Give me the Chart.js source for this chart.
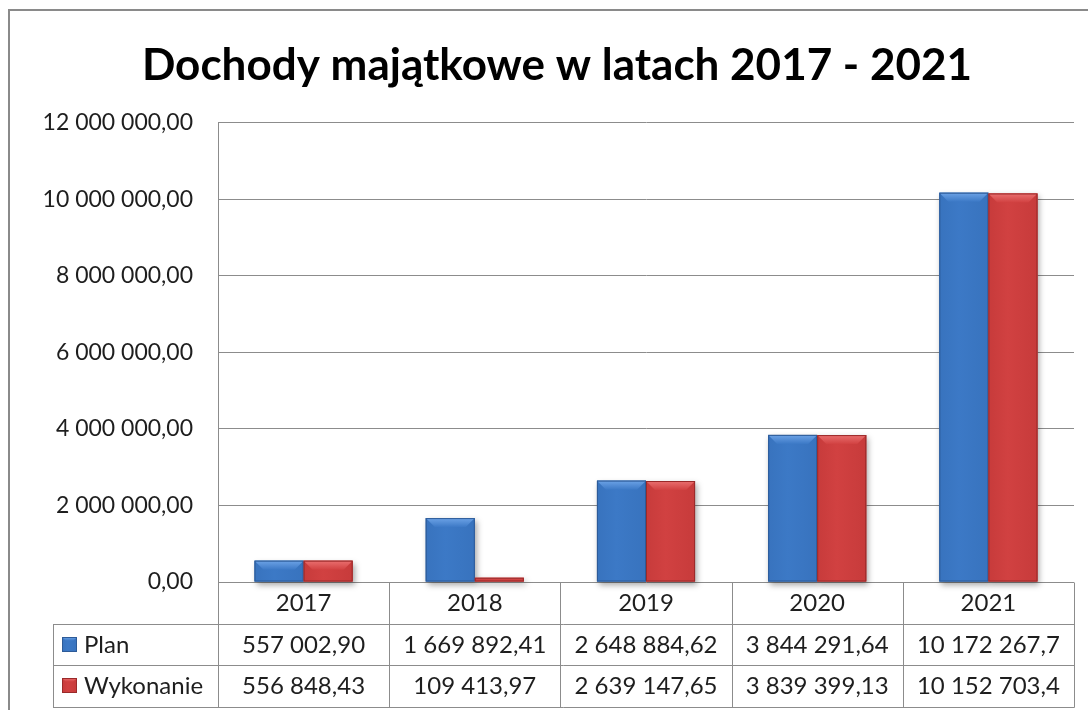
<!DOCTYPE html>
<html>
<head>
<meta charset="utf-8">
<script src="https://cdn.jsdelivr.net/npm/chart.js@4.4.1/dist/chart.umd.min.js"></script>
<style>
  html, body { margin: 0; padding: 0; background: #fff; }
  #wrap { width: 1088px; height: 710px; position: relative; }
</style>
</head>
<body>
<div id="wrap"><canvas id="chart" width="1088" height="710"></canvas></div>
<script>
// data
const years = ['2017', '2018', '2019', '2020', '2021'];
const planValues = [557002.90, 1669892.41, 2648884.62, 3844291.64, 10172267.7];
const wykonanieValues = [556848.43, 109413.97, 2639147.65, 3839399.13, 10152703.4];
const planText = ['557 002,90', '1 669 892,41', '2 648 884,62', '3 844 291,64', '10 172 267,7'];
const wykonanieText = ['556 848,43', '109 413,97', '2 639 147,65', '3 839 399,13', '10 152 703,4'];
const seriesNames = ['Plan', 'Wykonanie'];
const yMax = 12000000;
const yStep = 2000000;

const FONT = 'Lato';
const GRID = '#8c8c8c';
const TEXT = '#1e1e1e';

// bar palettes (body / light bevel / side / dark edge)
const palettes = [
  { body: '#3c79c6', light: '#6da3e6', side: '#3873be', dark: '#2d5b98' },
  { body: '#d14141', light: '#ea7070', side: '#c73b3b', dark: '#9a2a2a' }
];

function fmt(v) {
  const parts = v.toFixed(2).split('.');
  const int = parts[0].replace(/\B(?=(\d{3})+(?!\d))/g, ' ');
  return int + ',' + parts[1];
}

function poly(ctx, pts, color) {
  ctx.beginPath();
  ctx.moveTo(pts[0][0], pts[0][1]);
  for (let i = 1; i < pts.length; i++) ctx.lineTo(pts[i][0], pts[i][1]);
  ctx.closePath();
  ctx.fillStyle = color;
  ctx.fill();
}

function bevel(ctx, x0, x1, y0, y1, pal, maxB) {
  const w = x1 - x0, h = y1 - y0;
  if (h <= 0) return;
  const b = Math.min(maxB, w / 4, h / 2);
  // body gradient
  const g = ctx.createLinearGradient(x0, 0, x1, 0);
  g.addColorStop(0, pal.side);
  g.addColorStop(0.4, pal.body);
  g.addColorStop(1, pal.side);
  ctx.fillStyle = g;
  ctx.fillRect(x0, y0, w, h);
  // top bevel
  const tg = ctx.createLinearGradient(0, y0, 0, y0 + b);
  tg.addColorStop(0, pal.light);
  tg.addColorStop(1, pal.body);
  poly(ctx, [[x0, y0], [x1, y0], [x1 - b, y0 + b], [x0 + b, y0 + b]], tg);
  // outline
  ctx.strokeStyle = pal.dark;
  ctx.lineWidth = 1;
  ctx.strokeRect(x0 + 0.5, y0 + 0.5, w - 1, h - 1);
}

const framePlugin = {
  id: 'frame',
  beforeDraw(chart) {
    const ctx = chart.ctx;
    ctx.save();
    ctx.fillStyle = '#fff';
    ctx.fillRect(0, 0, chart.width, chart.height);
    ctx.strokeStyle = '#8a8a8a';
    ctx.lineWidth = 2;
    ctx.beginPath();
    ctx.moveTo(9, chart.height);
    ctx.lineTo(9, 10);
    ctx.lineTo(chart.width, 10);
    ctx.stroke();
    ctx.restore();
  }
};

const bevelPlugin = {
  id: 'bevelBars',
  beforeDatasetsDraw(chart) {
    const ctx = chart.ctx;
    ctx.save();
    ctx.shadowColor = 'rgba(0,0,0,0.35)';
    ctx.shadowBlur = 6;
    ctx.shadowOffsetX = 2;
    ctx.shadowOffsetY = 3;
    ctx.fillStyle = '#999';
    chart.data.datasets.forEach((ds, di) => {
      chart.getDatasetMeta(di).data.forEach(bar => {
        const x0 = bar.x - bar.width / 2;
        ctx.fillRect(x0, bar.y, bar.width, bar.base - bar.y);
      });
    });
    ctx.restore();
  },
  afterDatasetsDraw(chart) {
    const ctx = chart.ctx;
    ctx.save();
    chart.data.datasets.forEach((ds, di) => {
      chart.getDatasetMeta(di).data.forEach(bar => {
        const x0 = bar.x - bar.width / 2;
        bevel(ctx, x0, x0 + bar.width, bar.y, bar.base, palettes[di], 9);
      });
    });
    ctx.restore();
  }
};

const tablePlugin = {
  id: 'dataTable',
  afterDraw(chart) {
    const { ctx, chartArea, scales } = chart;
    const x = scales.x;
    const left = chartArea.left, right = chartArea.right;
    const top = chartArea.bottom;
    const rowH = 41.5;
    const labelLeft = 53;
    const colW = (right - left) / years.length;
    const px = v => Math.round(v) + 0.5;

    ctx.save();
    ctx.strokeStyle = GRID;
    ctx.lineWidth = 1;
    ctx.beginPath();
    // horizontal lines
    for (let r = 1; r <= 3; r++) {
      const y = px(top + r * rowH);
      ctx.moveTo(labelLeft, y);
      ctx.lineTo(px(right), y);
    }
    // vertical lines
    for (let i = 0; i <= years.length; i++) {
      const xx = px(left + i * colW);
      ctx.moveTo(xx, px(top));
      ctx.lineTo(xx, px(top + 3 * rowH));
    }
    ctx.moveTo(px(labelLeft), px(top + rowH));
    ctx.lineTo(px(labelLeft), px(top + 3 * rowH));
    ctx.stroke();

    ctx.fillStyle = TEXT;
    ctx.font = '24px ' + FONT;
    ctx.textAlign = 'center';
    ctx.textBaseline = 'middle';
    const rows = [years, planText, wykonanieText];
    rows.forEach((row, r) => {
      const cy = top + r * rowH + rowH / 2 + 1;
      row.forEach((t, i) => {
        ctx.fillText(t, x.getPixelForValue(i), cy);
      });
    });

    // legend keys
    ctx.textAlign = 'left';
    seriesNames.forEach((name, s) => {
      const cy = top + (s + 1) * rowH + rowH / 2;
      const k = 15;
      bevel(ctx, 62, 62 + k, Math.round(cy - k / 2), Math.round(cy - k / 2) + k, palettes[s], 4);
      ctx.fillStyle = TEXT;
      ctx.fillText(name, 84, cy + 1);
    });
    ctx.restore();
  }
};

const chart = new Chart(document.getElementById('chart'), {
  type: 'bar',
  data: {
    labels: years,
    datasets: [
      { label: seriesNames[0], data: planValues, backgroundColor: palettes[0].body, borderWidth: 0 },
      { label: seriesNames[1], data: wykonanieValues, backgroundColor: palettes[1].body, borderWidth: 0 }
    ]
  },
  options: {
    responsive: false,
    animation: false,
    devicePixelRatio: 1,
    categoryPercentage: 0.573,
    barPercentage: 1.0,
    // left padding shifts the title centre right; the y axis keeps chart left at 218
    layout: { padding: { top: 10, left: 40, right: 14, bottom: 128 } },
    scales: {
      x: { display: false },
      y: {
        min: 0,
        max: yMax,
        afterFit: s => { s.width = 178; },
        ticks: {
          stepSize: yStep,
          padding: 25,
          color: TEXT,
          font: { family: FONT, size: 23 },
          callback: v => fmt(v)
        },
        grid: { color: GRID, drawTicks: false },
        border: { display: true, color: GRID }
      }
    },
    plugins: {
      legend: { display: false },
      tooltip: { enabled: false },
      title: {
        display: true,
        text: 'Dochody majątkowe w latach 2017 - 2021',
        color: '#000',
        font: { family: FONT, size: 44, weight: 'bold' },
        padding: { top: 29, bottom: 31 }
      }
    }
  },
  plugins: [framePlugin, bevelPlugin, tablePlugin]
});
</script>
</body>
</html>
